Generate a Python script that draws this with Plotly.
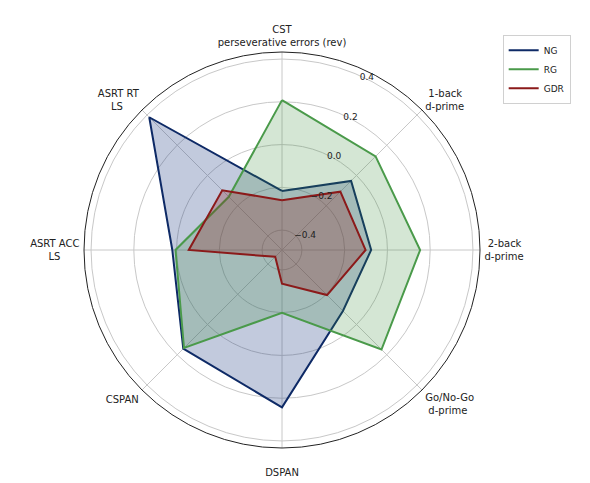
import plotly.graph_objects as go

NB = "\u00a0"
categories = [
    "CST<br>perseverative errors (rev)",
    NB + "1-back<br>d-prime",
    NB + "2-back<br>d-prime",
    "Go/No-Go<br>" + NB + "d-prime",
    "<br>DSPAN",
    "CSPAN",
    "ASRT ACC<br>LS" + NB * 6,
    "ASRT RT<br>LS" + NB * 5,
]
ng = [-0.217, -0.036, -0.076, -0.090, 0.243, 0.160, 0.020, 0.385]
rg = [0.208, 0.126, 0.153, 0.165, -0.199, 0.155, 0.005, -0.141]
gdr = [-0.260, -0.107, -0.102, -0.195, -0.335, -0.448, -0.057, -0.098]
radial_ticks = [-0.4, -0.2, 0.0, 0.2, 0.4]

series = [
    ("NG", ng, "#0e2a66", "rgba(31,58,130,0.27)"),
    ("RG", rg, "#4a9a4a", "rgba(60,140,60,0.22)"),
    ("GDR", gdr, "#8b1a1a", "rgba(139,26,26,0.27)"),
]

fig = go.Figure()
for name, vals, lc, fc in series:
    fig.add_trace(go.Scatterpolar(
        r=vals + vals[:1], theta=categories + categories[:1],
        mode="lines", fill="toself", fillcolor=fc,
        line=dict(color=lc, width=2), name=name, showlegend=False,
        hoverinfo="skip",
    ))
for name, vals, lc, fc in series:
    fig.add_trace(go.Scatterpolar(
        r=[None], theta=[None], mode="lines",
        line=dict(color=lc, width=2), name=name, showlegend=True,
    ))

fig.update_layout(
    width=590, height=483,
    margin=dict(l=0, r=0, t=0, b=0),
    paper_bgcolor="white",
    font=dict(family="DejaVu Sans", size=10, color="#222"),
    polar=dict(
        domain=dict(x=[84/590, 480/590], y=[35/483, 431/483]),
        bgcolor="white",
        angularaxis=dict(
            rotation=90, direction="clockwise",
            categoryorder="array", categoryarray=categories,
            showline=True, linecolor="#222", linewidth=1,
            gridcolor="#c8c8c8", gridwidth=1,
            ticks="outside", ticklen=2, tickcolor="rgba(0,0,0,0)",
            tickfont=dict(size=10, color="#222"),
        ),
        radialaxis=dict(
            range=[-0.493, 0.433],
            tickvals=radial_ticks,
            ticktext=["\u22120.4", "\u22120.2", "0.0", "0.2", "0.4"],
            angle=67.5, tickangle=67.5,
            showline=False, ticks="",
            gridcolor="#c8c8c8", gridwidth=1,
            tickfont=dict(size=9, color="#222"),
        ),
    ),
    legend=dict(
        x=0.852, y=0.928, xanchor="left", yanchor="top",
        bgcolor="white", bordercolor="#d0d0d0", borderwidth=1,
        font=dict(size=9, color="#222"),
    ),
)

fig.write_html("out.html")
